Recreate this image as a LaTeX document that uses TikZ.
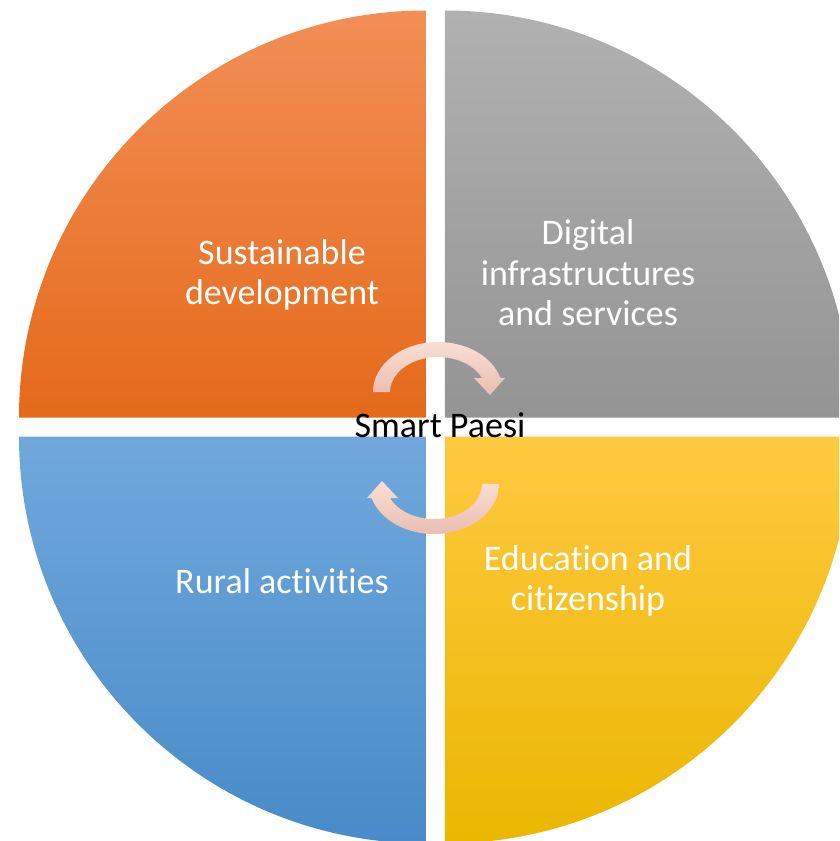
\documentclass[tikz,border=0pt]{standalone}
\usepackage{fontspec}
\setmainfont{Carlito}[Ligatures={NoCommon,NoRequired,NoContextual},Contextuals={NoAlternate}]
\definecolor{orangetop}{RGB}{242,143,86}
\definecolor{orangebot}{RGB}{229,106,26}
\definecolor{graytop}{RGB}{177,177,177}
\definecolor{graybot}{RGB}{148,148,148}
\definecolor{bluetop}{RGB}{112,168,220}
\definecolor{bluebot}{RGB}{72,139,200}
\definecolor{yellowtop}{RGB}{255,201,64}
\definecolor{yellowbot}{RGB}{234,183,0}
\definecolor{pinklight}{RGB}{250,222,212}
\definecolor{pinkdark}{RGB}{234,190,176}
\begin{document}
\begin{tikzpicture}[x=1pt,y=1pt,
  label/.style={text=white,align=center,font=\fontsize{36}{40.5}\selectfont},
  centre/.style={text=black,font=\fontsize{36}{40.5}\selectfont}]
\useasboundingbox (-435.5,-414) rectangle (403.5,427);
\fill[white] (-435.5,-414) rectangle (403.5,427);
\clip (-435.5,-414) rectangle (403.5,427);
% four quarters
\shade[top color=orangetop,bottom color=orangebot] (-9.5,9.5) -- (-416.5,9.5) arc[start angle=180,end angle=90,radius=407] -- cycle;
\shade[top color=graytop,bottom color=graybot] (9.5,9.5) -- (9.5,416.5) arc[start angle=90,end angle=0,radius=407] -- cycle;
\shade[top color=bluetop,bottom color=bluebot] (-9.5,-9.5) -- (-9.5,-416.5) arc[start angle=270,end angle=180,radius=407] -- cycle;
\shade[top color=yellowtop,bottom color=yellowbot] (9.5,-9.5) -- (416.5,-9.5) arc[start angle=0,end angle=-90,radius=407] -- cycle;
% cycle arrows
\begin{scope}[shift={(2.5,35)}]
\shade[top color=pinklight,bottom color=pinkdark] (-65,0) arc[start angle=180,end angle=16.3,x radius=65,y radius=50]
  -- (67,14) -- (52,-3) -- (36,14) -- (44,14) arc[start angle=23.6,end angle=180,x radius=48,y radius=35] -- cycle;
\end{scope}
\begin{scope}[shift={(-1.5,-57)}]
\shade[top color=pinklight,bottom color=pinkdark] (65,0) arc[start angle=0,end angle=-163.7,x radius=65,y radius=50]
  -- (-67,-14) -- (-52,3) -- (-36,-14) -- (-44,-14) arc[start angle=-156.4,end angle=0,x radius=48,y radius=35] -- cycle;
\end{scope}
\node[label] (sust) at (-153.5,152) {Sustainable\\development};
\node[label] (digi) at (152.5,154) {Digital\\infrastructures\\and services};
\node[label] (rural) at (-153.5,-154) {Rural activities};
\node[label] (edu) at (152.5,-154) {Education and\\citizenship};
\node[centre] (smart) at (4.5,2) {Smart Paesi};
\end{tikzpicture}
\end{document}
